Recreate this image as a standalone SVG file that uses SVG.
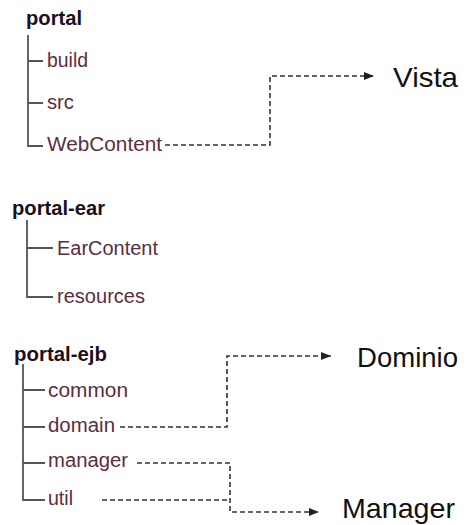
<svg xmlns="http://www.w3.org/2000/svg" width="472" height="525" viewBox="0 0 472 525">
  <style>
    .head { font-family: "Liberation Sans", Arial, sans-serif; font-weight: bold; font-size: 20px; fill: #1c1020; }
    .item { font-family: "Liberation Sans", Arial, sans-serif; font-size: 20px; fill: #5a2e40; }
    .big { font-family: "Liberation Sans", Arial, sans-serif; font-size: 28px; fill: #111; }
    .tree { fill: none; stroke: #555; stroke-width: 1.8; }
    .link { fill: none; stroke: #333; stroke-width: 1.6; stroke-dasharray: 5 3; }
  </style>
  <defs>
    <marker id="arrow" markerUnits="userSpaceOnUse" markerWidth="11" markerHeight="9" refX="10" refY="4.5" orient="auto">
      <path d="M0,0.5 L10,4.5 L0,8.5 Z" fill="#222"/>
    </marker>
  </defs>

  <!-- portal project -->
  <g id="portal">
    <text class="head" x="26" y="25" textLength="56" lengthAdjust="spacingAndGlyphs">portal</text>
    <path class="tree" d="M28,35 V146 H43 M28,61 H43 M28,103 H43"/>
    <text class="item" x="47" y="67" textLength="41" lengthAdjust="spacingAndGlyphs">build</text>
    <text class="item" x="47" y="109" textLength="27" lengthAdjust="spacingAndGlyphs">src</text>
    <text class="item" x="47" y="151" textLength="115" lengthAdjust="spacingAndGlyphs">WebContent</text>
  </g>

  <g id="vista">
    <text class="big" x="393" y="87" textLength="65" lengthAdjust="spacingAndGlyphs">Vista</text>
  </g>

  <!-- portal-ear project -->
  <g id="portal-ear">
    <text class="head" x="12" y="215" textLength="93" lengthAdjust="spacingAndGlyphs">portal-ear</text>
    <path class="tree" d="M27,220 V297 H53 M27,248 H53"/>
    <text class="item" x="57" y="255" textLength="101" lengthAdjust="spacingAndGlyphs">EarContent</text>
    <text class="item" x="57" y="303" textLength="88" lengthAdjust="spacingAndGlyphs">resources</text>
  </g>

  <!-- portal-ejb project -->
  <g id="portal-ejb">
    <text class="head" x="14" y="361" textLength="93" lengthAdjust="spacingAndGlyphs">portal-ejb</text>
    <path class="tree" d="M23,364 V500 H45 M23,390 H45 M23,427 H45 M23,463 H45"/>
    <text class="item" x="48" y="397" textLength="80" lengthAdjust="spacingAndGlyphs">common</text>
    <text class="item" x="48" y="432" textLength="67" lengthAdjust="spacingAndGlyphs">domain</text>
    <text class="item" x="48" y="467" textLength="80" lengthAdjust="spacingAndGlyphs">manager</text>
    <text class="item" x="48" y="505" textLength="25" lengthAdjust="spacingAndGlyphs">util</text>
  </g>

  <g id="dominio">
    <text class="big" x="357" y="367" textLength="101" lengthAdjust="spacingAndGlyphs">Dominio</text>
  </g>

  <g id="manager-layer">
    <text class="big" x="342" y="518" textLength="113" lengthAdjust="spacingAndGlyphs">Manager</text>
  </g>

  <!-- dashed connectors -->
  <g id="connectors">
    <path class="link" d="M165,145 H270 V76 H374" marker-end="url(#arrow)"/>
    <path class="link" d="M120,427 H227 V356 H331" marker-end="url(#arrow)"/>
    <path class="link" d="M137,463 H230 V512 H319" marker-end="url(#arrow)"/>
    <path class="link" d="M102,500 H230"/>
  </g>
</svg>
